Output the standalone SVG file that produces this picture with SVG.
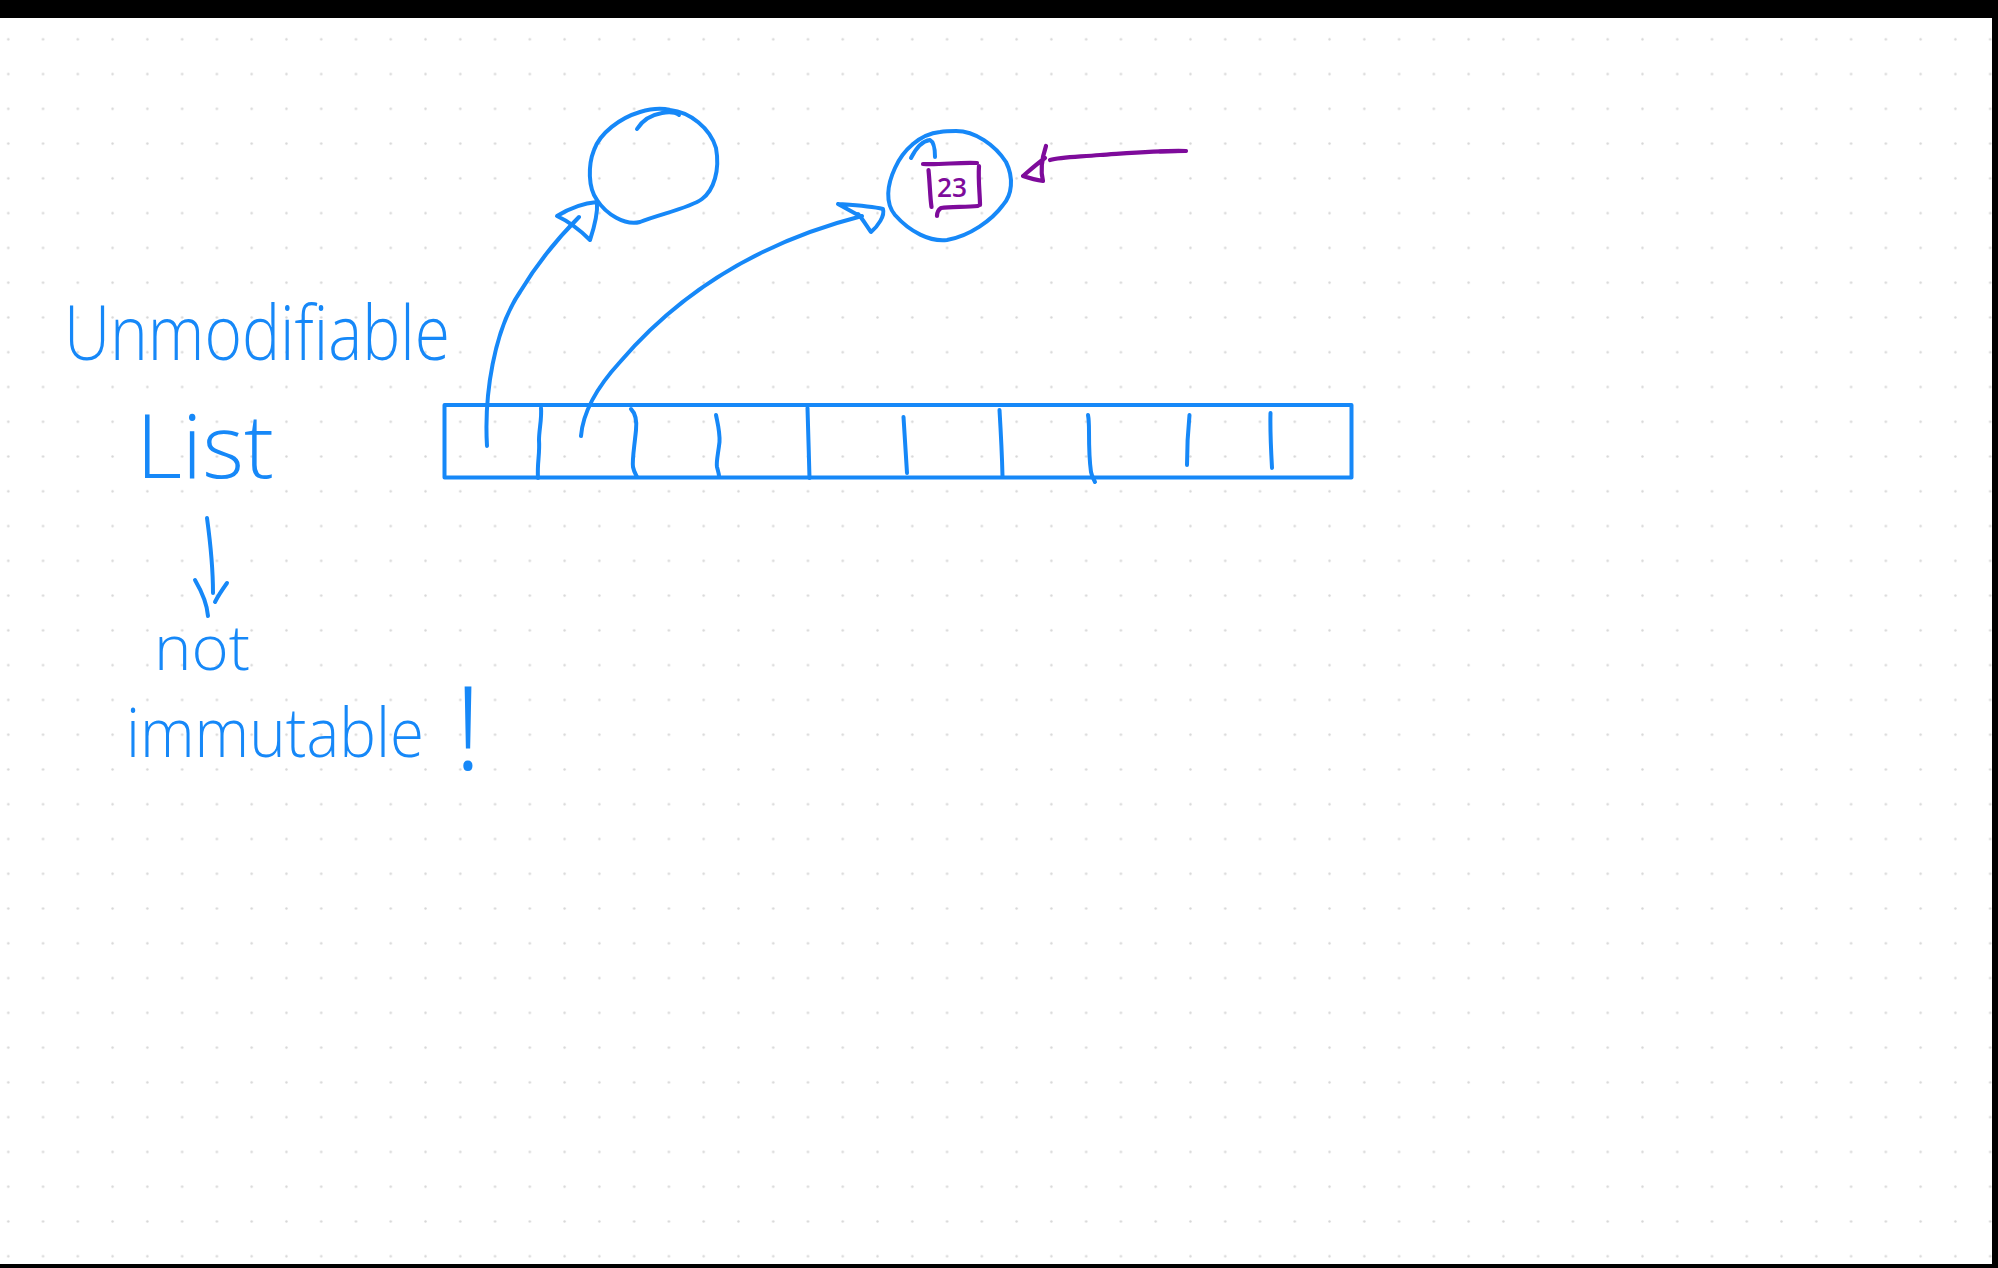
<svg xmlns="http://www.w3.org/2000/svg" width="1998" height="1268" viewBox="0 0 1998 1268">
  <defs>
    <pattern id="dots" x="-9.1" y="21.9" width="34.77" height="34.77" patternUnits="userSpaceOnUse">
      <circle cx="17.385" cy="17.385" r="1.2" fill="#d6d6d6"/>
    </pattern>
    <style>
      .b { fill: none; stroke: #1688f8; stroke-width: 4; stroke-linecap: round; stroke-linejoin: round; }
      .p { fill: none; stroke: #7e0b9b; stroke-width: 4.2; stroke-linecap: round; stroke-linejoin: round; }
      .tb { fill: #1688f8; font-family: "Open Sans", "Liberation Sans", sans-serif; font-weight: 300; }
      .tp { fill: #7e0b9b; font-family: "Open Sans", "Liberation Sans", sans-serif; font-weight: 600; }
    </style>
  </defs>

  <rect x="0" y="0" width="1998" height="1268" fill="#ffffff"/>
  <rect x="0" y="18" width="1992" height="1246" fill="url(#dots)"/>
  <rect x="0" y="0" width="1998" height="18" fill="#000000"/>
  <rect x="1992" y="0" width="6" height="1268" fill="#000000"/>
  <rect x="0" y="1264" width="1998" height="4" fill="#000000"/>

  <g id="title">
    <text class="tb" x="64" y="360" font-size="76" textLength="386" lengthAdjust="spacingAndGlyphs">Unmodifiable</text>
    <text class="tb" x="136" y="478" font-size="88" textLength="138" lengthAdjust="spacingAndGlyphs">List</text>
  </g>

  <g id="note">
    <text class="tb" x="154" y="670" font-size="62" textLength="96" lengthAdjust="spacingAndGlyphs">not</text>
    <text class="tb" x="126" y="757" font-size="68"><tspan textLength="298" lengthAdjust="spacingAndGlyphs">immutable</tspan><tspan x="454" y="770" font-size="116">!</tspan></text>
  </g>

  <g id="list">
    <rect class="b" x="444.5" y="405" width="907" height="72.5" stroke-width="3.2"/>
    <path class="b" d="M541,408 C542,418 539,430 539,440 C540,455 537,462 538,478"/>
    <path class="b" d="M631,409 C636,414 637,420 636,430 C634,450 632,460 633,467 C634,472 636,475 637,477"/>
    <path class="b" d="M716,415 C718,425 720,432 719.5,442 C718,455 716,462 717,467 C718,471 719,474 719,476"/>
    <path class="b" d="M807.5,408 C808,430 809,455 809.5,478"/>
    <path class="b" d="M903.5,417 C905,440 906,458 907,473"/>
    <path class="b" d="M999.5,410 C1001,435 1002,455 1002.5,476"/>
    <path class="b" d="M1088,415 C1089,420 1089,425 1089,432 C1089,450 1090,465 1091,472 C1092,477 1094,480 1095,482"/>
    <path class="b" d="M1189.5,415 C1188,430 1187,450 1187,465"/>
    <path class="b" d="M1270.5,413 C1270,430 1271,450 1272,468"/>
  </g>

  <g id="node-empty">
    <path class="b" d="M670,110 C690,112 710,128 716,148 C720,170 714,190 702,199 C690,208 660,214 640,222 C625,226 606,214 597,200 C588,188 588,165 594,150 C600,133 620,118 640,112 C650,109 662,108 670,110 Z"/>
    <path class="b" d="M637,129 C642,121 650,115 662,113 C668,112 675,112 679,115"/>
  </g>

  <g id="node-23">
    <path class="b" d="M956,131 C975,131 995,145 1006,162 C1014,178 1012,195 1003,205 C992,220 970,236 947,240 C930,242 910,232 895,215 C885,203 887,185 895,168 C903,150 920,134 940,132 C946,131 952,131 956,131 Z"/>
    <path class="b" d="M911,158 C916,148 922,141 930,140 C934,142 935,150 935,157"/>
    <path class="p" d="M923,164 C940,165 960,162 977,163"/>
    <path class="p" d="M979,166 C978,180 980,195 980,205"/>
    <path class="p" d="M978,206 C965,207 950,207 941,208 C938,210 937,213 937,216"/>
    <path class="p" d="M928.5,170 C930,185 930,197 931.5,207"/>
    <text class="tp" x="937" y="197" font-size="27" textLength="30" lengthAdjust="spacingAndGlyphs">23</text>
  </g>

  <g id="connectors">
    <path class="b" d="M487,446 C484,395 494,330 520,292 C538,262 558,238 579,217"/>
    <path class="b" d="M557,216 C570,208 585,203 597,202 C598,215 594,228 590,240 C582,232 570,222 557,216 Z"/>
    <path class="b" d="M581,436 C583,412 598,386 620,362 C680,292 760,242 862,216"/>
    <path class="b" d="M838,204 C852,205 870,206 883,209 C885,216 878,226 871,232 C866,225 862,218 858,214 M838,204 L858,215"/>
    <path class="b" d="M207,518 C210,540 213,570 213,593"/>
    <path class="b" d="M195,580 C202,592 207,603 208,616"/>
    <path class="b" d="M227,583 C222,590 218,596 215,602"/>
    <path class="p" d="M1186,151 C1165,150 1130,153 1100,155 C1075,157 1060,157 1050,160"/>
    <path class="p" d="M1160,151.5 L1185,151" stroke-width="8"/>
    <path class="p" d="M1046,146 C1042,158 1040,170 1043,181 C1036,180 1029,178 1023,176 C1030,170 1038,163 1045,158"/>
  </g>
</svg>
